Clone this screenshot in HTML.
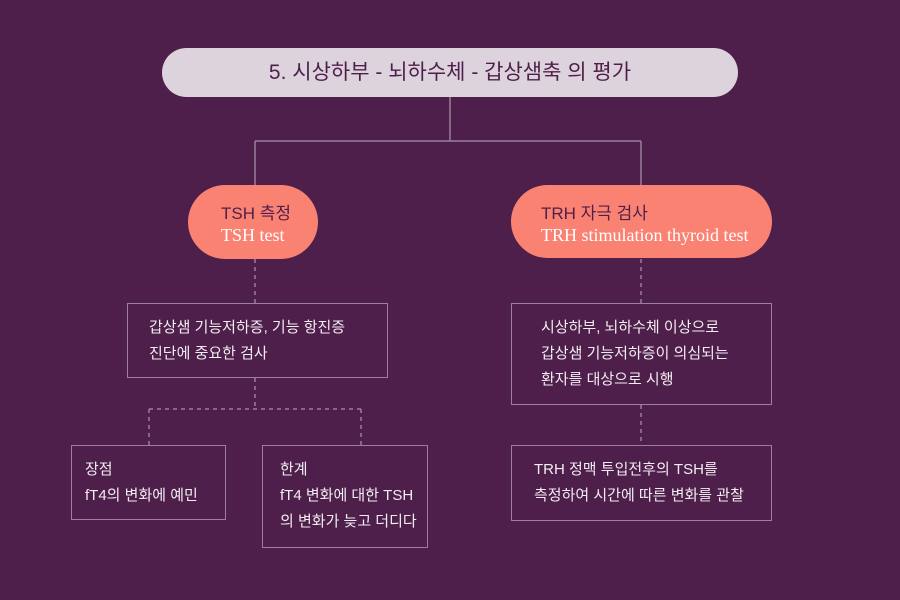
<!DOCTYPE html>
<html><head><meta charset="utf-8"><style>
body{margin:0;width:900px;height:600px;background:#4e1f4a;position:relative;overflow:hidden;font-family:"Liberation Sans","Noto Sans CJK KR",sans-serif;}
.a{position:absolute;box-sizing:border-box}
.box{position:absolute;box-sizing:border-box;border:1.5px solid #9c7f9a;color:#f3ecf2;font-size:15px;line-height:26px}
.pill{position:absolute;box-sizing:border-box;background:#fa8273;border-radius:38px;}
.k{color:#4e1f4a;font-size:17px;position:absolute;white-space:nowrap}
.s{color:#fff;font-family:"Liberation Serif","Noto Serif CJK SC",serif;font-size:18px;position:absolute;white-space:nowrap}
</style></head><body>
<svg class="a" style="left:0;top:0" width="900" height="600">
<g stroke="#9c7f9a" stroke-width="1.5" fill="none">
<path d="M450 97V141M255 141H641M255 141V185M641 141V185"/>
<g stroke-dasharray="4 4">
<path d="M255 259V303M255 378V409M149 409H361M149 409V445M361 409V445M641 259V303M641 405V445"/>
</g></g></svg>
<div class="a" style="left:162px;top:48px;width:576px;height:49px;background:#ddd3dd;border-radius:25px;color:#4e1f4a;font-size:21px;text-align:center;line-height:49px">5. 시상하부 - 뇌하수체 - 갑상샘축 의 평가</div>
<div class="pill" style="left:188px;top:185px;width:130px;height:74px"><span class="k" style="left:33px;top:14px">TSH 측정</span><span class="s" style="left:33px;top:40px">TSH test</span></div>
<div class="pill" style="left:511px;top:185px;width:261px;height:73px"><span class="k" style="left:30px;top:14px">TRH 자극 검사</span><span class="s" style="left:30px;top:40px">TRH stimulation thyroid test</span></div>
<div class="box" style="left:127px;top:303px;width:261px;height:75px;padding:11px 0 0 21px">갑상샘 기능저하증, 기능 항진증<br>진단에 중요한 검사</div>
<div class="box" style="left:71px;top:445px;width:155px;height:75px;padding:11px 0 0 13px">장점<br>fT4의 변화에 예민</div>
<div class="box" style="left:262px;top:445px;width:166px;height:103px;padding:11px 0 0 17px">한계<br>fT4 변화에 대한 TSH<br>의 변화가 늦고 더디다</div>
<div class="box" style="left:511px;top:303px;width:261px;height:102px;padding:11px 0 0 29px">시상하부, 뇌하수체 이상으로<br>갑상샘 기능저하증이 의심되는<br>환자를 대상으로 시행</div>
<div class="box" style="left:511px;top:445px;width:261px;height:76px;padding:11px 0 0 22px">TRH 정맥 투입전후의 TSH를<br>측정하여 시간에 따른 변화를 관찰</div>
</body></html>
